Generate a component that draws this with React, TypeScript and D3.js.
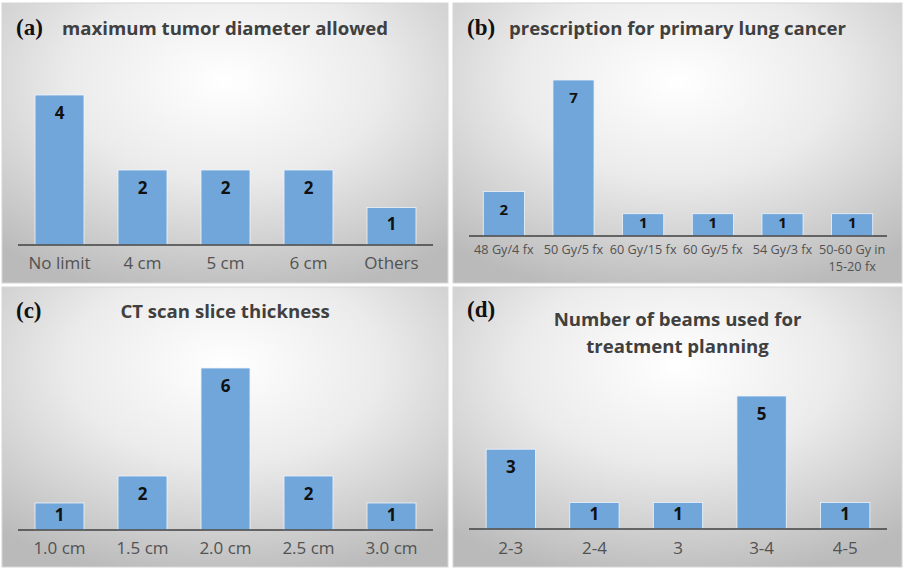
import React from "react";
import * as d3 from "d3";

// panel (a)
const tumorCats = ["No limit", "4 cm", "5 cm", "6 cm", "Others"];
const tumorVals = [4, 2, 2, 2, 1];

// panel (b)
const rxCats = ["48 Gy/4 fx", "50 Gy/5 fx", "60 Gy/15 fx", "60 Gy/5 fx", "54 Gy/3 fx", "50-60 Gy in\n15-20 fx"];
const rxVals = [2, 7, 1, 1, 1, 1];

// panel (c)
const sliceCats = ["1.0 cm", "1.5 cm", "2.0 cm", "2.5 cm", "3.0 cm"];
const sliceVals = [1, 2, 6, 2, 1];

// panel (d)
const beamCats = ["2-3", "2-4", "3", "3-4", "4-5"];
const beamVals = [3, 1, 1, 5, 1];

const BAR = "#70a6da";
const TXT = "#525252";
const SANS = "'Open Sans', 'Noto Sans', sans-serif";

interface PanelProps {
  id: string;
  tag: string;
  title: string[];
  cats: string[];
  vals: number[];
  x: number;
  y: number;
  w: number;
  h: number;
  axisY: number;
  maxTop: number;
  titleY: number;
  titleSize: number;
  labelSize: number;
  labelGap: number;
  valueSize: number;
}

function Panel(p: PanelProps) {
  const xs = d3
    .scaleBand<string>()
    .domain(p.cats)
    .range([16, p.w - 15])
    .paddingInner(0.41)
    .paddingOuter(0.205);
  const ys = d3
    .scaleLinear()
    .domain([0, d3.max(p.vals) || 1])
    .range([p.axisY, p.maxTop]);

  return (
    <g transform={`translate(${p.x},${p.y})`}>
      <defs>
        <radialGradient id={`bg-${p.id}`} cx="0.5" cy="0.28" r="0.78">
          <stop offset="0" stopColor="#ffffff" />
          <stop offset="0.45" stopColor="#ebebeb" />
          <stop offset="1" stopColor="#bababa" />
        </radialGradient>
      </defs>
      <rect width={p.w} height={p.h} fill={`url(#bg-${p.id})`} stroke="#d6d6d6" strokeWidth={1} />
      <text x={14} y={p.titleY} fontFamily="'Liberation Serif', 'Times New Roman', serif" fontWeight="bold" fontSize={23} fill="#111">
        {p.tag}
      </text>
      {p.title.map((t, i) => (
        <text
          key={i}
          x={p.w / 2}
          y={p.titleY + i * 27 + (p.title.length > 1 ? 9 : 0)}
          textAnchor="middle"
          fontFamily={SANS}
          fontWeight="bold"
          fontSize={p.titleSize}
          fill="#404040"
        >
          {t}
        </text>
      ))}
      {p.vals.map((v, i) => {
        const bx = xs(p.cats[i]) || 0;
        const top = ys(v);
        const cy = Math.min(top + 18, (top + p.axisY) / 2 - 2);
        return (
          <g key={i}>
            <rect x={bx} y={top} width={xs.bandwidth()} height={p.axisY - top} fill={BAR} stroke="#eef4fa" strokeWidth={0.8} />
            <text
              x={bx + xs.bandwidth() / 2}
              y={cy}
              dy="0.36em"
              textAnchor="middle"
              fontFamily={SANS}
              fontWeight="bold"
              fontSize={p.valueSize}
              fill="#111"
            >
              {v}
            </text>
          </g>
        );
      })}
      <line x1={16} x2={p.w - 15} y1={p.axisY} y2={p.axisY} stroke="#404040" strokeWidth={1.5} />
      {p.cats.map((c, i) => {
        const cx = (xs(c) || 0) + xs.bandwidth() / 2;
        return c.split("\n").map((line, j) => (
          <text
            key={`${i}-${j}`}
            x={cx}
            y={p.axisY + p.labelGap + j * (p.labelSize + 5)}
            dy="0.36em"
            textAnchor="middle"
            fontFamily={SANS}
            fontSize={p.labelSize}
            fill={TXT}
          >
            {line}
          </text>
        ));
      })}
    </g>
  );
}

export default function App() {
  return (
    <svg
      width={904}
      height={570}
      style={{ position: "absolute", left: 0, top: 0, background: "#fff" }}
    >
      <Panel
        id="a" tag="(a)" title={["maximum tumor diameter allowed"]}
        cats={tumorCats} vals={tumorVals}
        x={2} y={3} w={446} h={280} axisY={242} maxTop={92}
        titleY={32} titleSize={18.6} labelSize={17} labelGap={18} valueSize={17}
      />
      <Panel
        id="b" tag="(b)" title={["prescription for primary lung cancer"]}
        cats={rxCats} vals={rxVals}
        x={453} y={3} w={449} h={280} axisY={233} maxTop={77}
        titleY={32} titleSize={18.6} labelSize={12.7} labelGap={13} valueSize={15}
      />
      <Panel
        id="c" tag="(c)" title={["CT scan slice thickness"]}
        cats={sliceCats} vals={sliceVals}
        x={2} y={287} w={446} h={280} axisY={243} maxTop={81}
        titleY={31} titleSize={18.6} labelSize={17} labelGap={18} valueSize={17}
      />
      <Panel
        id="d" tag="(d)" title={["Number of beams used for", "treatment planning"]}
        cats={beamCats} vals={beamVals}
        x={453} y={287} w={449} h={280} axisY={242} maxTop={109}
        titleY={30} titleSize={18.6} labelSize={17} labelGap={19} valueSize={17}
      />
    </svg>
  );
}
